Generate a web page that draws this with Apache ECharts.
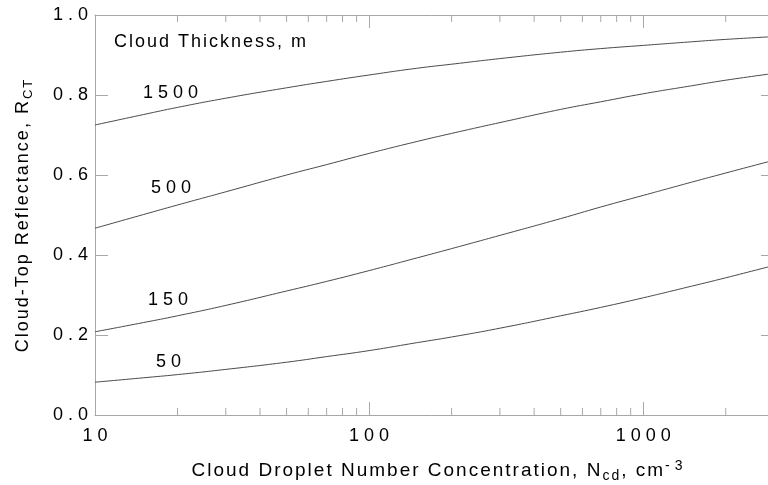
<!DOCTYPE html>
<html>
<head>
<meta charset="utf-8">
<script src="https://cdn.jsdelivr.net/npm/echarts@6/dist/echarts.min.js"></script>
<style>
html,body{margin:0;padding:0;background:#fff;}
#chart{width:768px;height:485px;}
</style>
</head>
<body>
<div id="chart"></div>
<script>
// ---- data ----
const concentrations = [10, 15, 20, 30, 50, 70, 100, 150, 200, 300, 500, 700, 1000, 1500, 2000, 3000];
const refl1500 = [0.725, 0.751, 0.769, 0.792, 0.818, 0.834, 0.850, 0.867, 0.877, 0.891, 0.907, 0.916, 0.924, 0.933, 0.939, 0.946];
const refl500  = [0.467, 0.501, 0.525, 0.558, 0.600, 0.626, 0.654, 0.684, 0.704, 0.731, 0.764, 0.783, 0.803, 0.823, 0.837, 0.854];
const refl150  = [0.208, 0.231, 0.248, 0.274, 0.310, 0.334, 0.361, 0.393, 0.416, 0.449, 0.491, 0.520, 0.549, 0.582, 0.605, 0.637];
const refl50   = [0.082, 0.093, 0.101, 0.114, 0.132, 0.146, 0.161, 0.181, 0.195, 0.217, 0.248, 0.269, 0.293, 0.322, 0.343, 0.374];
const thicknessLabels = ['1500', '500', '150', '50'];
const xTickLabels = ['10', '100', '1000'];
const xMinorTicks = [20, 30, 40, 50, 60, 70, 80, 90, 200, 300, 400, 500, 600, 700, 800, 900, 2000, 3000];
const xRange = [10, 3000];
const yRange = [0, 1];
const yStep = 0.2;
const insideTitle = 'Cloud Thickness, m';

// ---- text spacing (canvas letterSpacing) ----
const FONT = '"Liberation Sans", Arial, Helvetica, sans-serif';
const lsSupported = 'letterSpacing' in CanvasRenderingContext2D.prototype;
function spacingFor(t) {
  t = String(t);
  if (!lsSupported || t.length < 2) return 0;
  return /^[0-9.\-\s]+$/.test(t) ? 5 : 2;
}
const measureCtx = document.createElement('canvas').getContext('2d');
if (echarts.setPlatformAPI && lsSupported) {
  echarts.setPlatformAPI({
    measureText(text, font) {
      measureCtx.font = font;
      const w = measureCtx.measureText(text).width;
      return { width: w + spacingFor(text) * String(text).length };
    }
  });
  const proto = CanvasRenderingContext2D.prototype;
  const origFill = proto.fillText;
  proto.fillText = function (t, x, y, mw) {
    this.letterSpacing = spacingFor(t) + 'px';
    return mw === undefined ? origFill.call(this, t, x, y) : origFill.call(this, t, x, y, mw);
  };
}

// ---- chart ----
const AXIS = '#a8a8a8';
const CURVE = '#4a4a4a';
const chart = echarts.init(document.getElementById('chart'), null, { renderer: 'canvas' });

const curveSets = [refl1500, refl500, refl150, refl50];
const curveSeries = curveSets.map((vals, i) => ({
  type: 'line',
  name: thicknessLabels[i],
  xAxisIndex: 0,
  yAxisIndex: 0,
  data: concentrations.map((c, j) => [c, vals[j]]),
  symbol: 'none',
  smooth: true,
  silent: true,
  lineStyle: { color: CURVE, width: 1 },
  z: 3
}));

const minorTickSeries = {
  type: 'custom',
  xAxisIndex: 0,
  yAxisIndex: 0,
  silent: true,
  data: xMinorTicks.map(v => [v, 0]),
  renderItem: function (params, api) {
    const x = api.coord([api.value(0), yRange[0]])[0];
    const yb = api.coord([xRange[0], yRange[0]])[1];
    const yt = api.coord([xRange[0], yRange[1]])[1];
    return {
      type: 'group',
      children: [
        { type: 'line', shape: { x1: x, y1: yb, x2: x, y2: yb - 7 }, style: { stroke: AXIS, lineWidth: 1 } },
        { type: 'line', shape: { x1: x, y1: yt, x2: x, y2: yt + 7 }, style: { stroke: AXIS, lineWidth: 1 } }
      ]
    };
  }
};

const labelPos = [
  { x: 143, y: 93 },
  { x: 151, y: 188 },
  { x: 148, y: 300 },
  { x: 156, y: 362 }
];
const graphics = thicknessLabels.map((t, i) => ({
  type: 'text',
  x: labelPos[i].x,
  y: labelPos[i].y,
  silent: true,
  style: { text: t, fill: '#000', fontSize: 18, fontFamily: FONT, textAlign: 'left', textVerticalAlign: 'middle' }
}));
graphics.push({
  type: 'text', x: 114, y: 42, silent: true,
  style: { text: insideTitle, fill: '#000', fontSize: 18, fontFamily: FONT, textAlign: 'left', textVerticalAlign: 'middle' }
});

const xBase = {
  type: 'log',
  logBase: 10,
  min: xRange[0],
  max: xRange[1],
  axisLine: { show: true, onZero: false, lineStyle: { color: AXIS, width: 1 } },
  axisTick: { show: true, inside: true, length: 13, lineStyle: { color: AXIS, width: 1 } },
  minorTick: { show: false },
  splitLine: { show: false },
  minorSplitLine: { show: false }
};
const yBase = {
  type: 'value',
  min: yRange[0],
  max: yRange[1],
  interval: yStep,
  axisLine: { show: true, onZero: false, lineStyle: { color: AXIS, width: 1 } },
  axisTick: { show: true, inside: true, length: 13, lineStyle: { color: AXIS, width: 1 } },
  splitLine: { show: false }
};

const option = {
  animation: false,
  backgroundColor: '#ffffff',
  textStyle: { fontFamily: FONT },
  tooltip: { show: false },
  grid: { left: 95, right: -6, top: 15, bottom: 70, containLabel: false, outerBoundsMode: 'none' },
  xAxis: [
    Object.assign({}, xBase, {
      position: 'bottom',
      name: 'Cloud Droplet Number Concentration, N{sub|cd}, cm{sup|-3}',
      nameLocation: 'middle',
      nameGap: 44,
      nameTextStyle: {
        fontSize: 19, color: '#000', fontFamily: FONT, lineHeight: 24, padding: [0, 0, 0, 10],
        rich: {
          sub: { fontSize: 14, lineHeight: 13, verticalAlign: 'bottom', color: '#000', fontFamily: FONT },
          sup: { fontSize: 14, lineHeight: 10, verticalAlign: 'top', color: '#000', fontFamily: FONT }
        }
      },
      axisLabel: {
        show: true, margin: 12, fontSize: 18, color: '#000', fontFamily: FONT, padding: [0, 0, 0, 5],
        formatter: function (v) {
          const s = String(Math.round(v));
          return xTickLabels.indexOf(s) >= 0 ? s : '';
        }
      }
    }),
    Object.assign({}, xBase, { position: 'top', axisLabel: { show: false }, name: '' })
  ],
  yAxis: [
    Object.assign({}, yBase, {
      position: 'left',
      name: 'Cloud-Top Reflectance, R{sub|CT}',
      nameLocation: 'middle',
      nameGap: 60,
      nameTextStyle: {
        fontSize: 18, color: '#000', fontFamily: FONT, lineHeight: 24,
        rich: {
          sub: { fontSize: 13, lineHeight: 13, verticalAlign: 'bottom', color: '#000', fontFamily: FONT }
        }
      },
      axisLabel: {
        show: true, margin: 2, fontSize: 18, color: '#000', fontFamily: FONT,
        formatter: function (v) { return v.toFixed(1); }
      }
    }),
    Object.assign({}, yBase, { position: 'right', axisLabel: { show: false }, name: '' })
  ],
  graphic: graphics,
  series: curveSeries.concat([minorTickSeries])
};

chart.setOption(option);
</script>
</body>
</html>
